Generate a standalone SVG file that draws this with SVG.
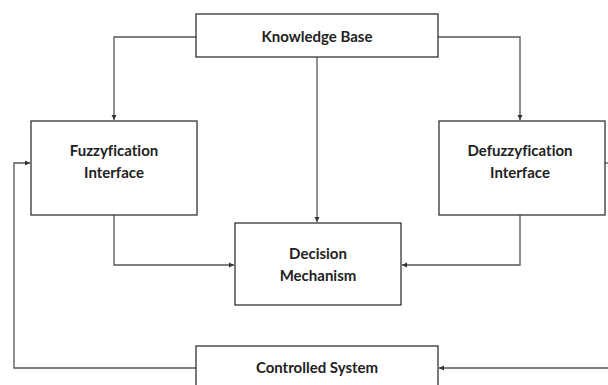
<svg xmlns="http://www.w3.org/2000/svg" width="608" height="385" viewBox="0 0 608 385">
<style>
.box{fill:#fff;stroke:#333;stroke-width:1.3}
.t{font-family:Lato,"Open Sans",sans-serif;font-weight:700;font-size:15px;fill:#222;text-anchor:middle;font-variant-ligatures:none}
.c{fill:none;stroke:#555;stroke-width:1.3}
</style>
<defs>
<marker id="a" markerWidth="6" markerHeight="6" refX="5" refY="3" orient="auto" markerUnits="userSpaceOnUse">
<path d="M0,0.5 L5,3 L0,5.5 Z" fill="#333"/>
</marker>
</defs>
<rect width="608" height="385" fill="#fff"/>
<g id="connectors">
<path class="c" d="M196,37 H114 V120" marker-end="url(#a)"/>
<path class="c" d="M438,37 H520 V120" marker-end="url(#a)"/>
<path class="c" d="M317,57 V222" marker-end="url(#a)"/>
<path class="c" d="M114,215 V265 H234" marker-end="url(#a)"/>
<path class="c" d="M520,215 V265 H402" marker-end="url(#a)"/>
<path class="c" d="M605,163 H608"/>
<path class="c" d="M608,368 H439" marker-end="url(#a)"/>
<path class="c" d="M196,368 H14 V163 H30" marker-end="url(#a)"/>
</g>
<g id="kb"><rect class="box" x="196" y="14" width="242" height="43"/><text class="t" x="317" y="42">Knowledge Base</text></g>
<g id="fuzzy"><rect class="box" x="31" y="121" width="166" height="94"/><text class="t" x="114" y="156">Fuzzyfication</text><text class="t" x="114" y="178">Interface</text></g>
<g id="defuzzy"><rect class="box" x="439" y="121" width="166" height="94"/><text class="t" x="520" y="156">Defuzzyfication</text><text class="t" x="520" y="178">Interface</text></g>
<g id="decision"><rect class="box" x="235" y="223" width="166" height="82"/><text class="t" x="318" y="259">Decision</text><text class="t" x="318" y="281">Mechanism</text></g>
<g id="controlled"><rect class="box" x="196" y="346" width="242" height="45"/><text class="t" x="317" y="373">Controlled System</text></g>
</svg>
